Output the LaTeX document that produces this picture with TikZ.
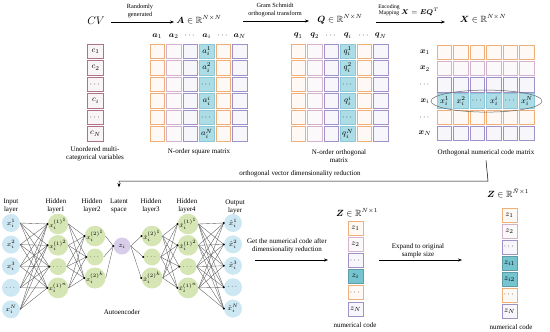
\documentclass[tikz,border=0pt]{standalone}
\usepackage{fontspec}
\setmainfont{Liberation Serif}
\usepackage{amsmath,amssymb,bm}
\usetikzlibrary{arrows.meta,calc,shapes.geometric}
\definecolor{corange}{RGB}{240,175,120}
\definecolor{cmauve}{RGB}{212,180,205}
\definecolor{cpurple}{RGB}{160,145,200}
\definecolor{ccyanb}{RGB}{140,200,215}
\definecolor{ccyanf}{RGB}{172,221,231}
\definecolor{cteal}{RGB}{118,196,208}
\definecolor{cmaroon}{RGB}{175,115,135}
\definecolor{nblue}{RGB}{205,232,243}
\definecolor{ngreen}{RGB}{213,229,180}
\definecolor{nlav}{RGB}{215,205,232}
\tikzset{
  cellbox/.style={draw=#1, line width=1pt, fill=#1!8, minimum width=14.5pt, minimum height=14.5pt, inner sep=0pt, font=\fontsize{8}{9}\selectfont},
  hotbox/.style={draw=ccyanb, line width=1pt, fill=ccyanf, minimum width=14.5pt, minimum height=14.5pt, inner sep=0pt, font=\fontsize{8}{9}\selectfont},
  vecbox/.style={draw=#1, line width=1pt, fill=#1!8, minimum width=15pt, minimum height=14pt, inner sep=0pt, font=\fontsize{8}{9}\selectfont},
  tealbox/.style={draw=cteal!80!black, line width=0.6pt, fill=cteal, minimum width=15pt, minimum height=14pt, inner sep=0pt, font=\fontsize{8}{9}\selectfont},
  lbl/.style={font=\fontsize{7}{8}\selectfont, align=center, inner sep=0pt},
  small/.style={font=\fontsize{6.3}{7.2}\selectfont, align=center, inner sep=0pt},
  hdr/.style={font=\fontsize{9}{10}\selectfont, inner sep=0pt},
  colhdr/.style={font=\fontsize{8}{9}\selectfont, inner sep=0pt},
  neuron/.style={circle, fill=#1, minimum size=17pt, inner sep=0pt, font=\fontsize{6}{7}\selectfont},
  conn/.style={draw=black!65, line width=0.35pt},
  flow/.style={-{Stealth[length=4pt,width=3pt]}, line width=0.5pt},
}
\begin{document}
\begin{tikzpicture}[x=1pt,y=-1pt]
\useasboundingbox (0,0) rectangle (550,332);

% ---------- top headers ----------
\node[font=\fontsize{11}{12}\selectfont] (cv) at (96,21) {$CV$};
\node[hdr] (Ahdr) at (199,20) {$\bm{A}\in\mathbb{R}^{N\times N}$};
\node[hdr] (Qhdr) at (340,19) {$\bm{Q}\in\mathbb{R}^{N\times N}$};
\node[hdr] (Xhdr) at (483,19) {$\bm{X}\in\mathbb{R}^{N\times N}$};

\coordinate (a1s) at (111,22); \coordinate (a1e) at (174,22);
\draw[flow] (a1s) -- (a1e);
\node[small] (t1) at (140,11) {Randomly\\generated};
\coordinate (a2s) at (243,21); \coordinate (a2e) at (309,21);
\draw[flow] (a2s) -- (a2e);
\node[small] (t2) at (275,10) {Gram Schmidt\\orthogonal transform};
\coordinate (a3s) at (376,22); \coordinate (a3e) at (445,22);
\draw[flow] (a3s) -- (a3e);
\node[font=\fontsize{5.6}{6.4}\selectfont, align=center, inner sep=0pt] (t3) at (389,10) {Encoding\\Mapping};
\node[font=\fontsize{7.5}{8}\selectfont, inner sep=0pt] (t4) at (420,12) {$\bm{X}=\bm{E}\bm{Q}^{T}$};

% ---------- c vector ----------
\foreach \r/\t in {1/{$c_1$},2/{$c_2$},3/{$\cdots$},4/{$c_i$},5/{$\cdots$},6/{$c_N$}}{
  \node[cellbox=cmaroon, minimum width=15.5pt] (c\r) at (95.5,{51.25+16.5*(\r-1)}) {\t};
}
\node[lbl] (capc) at (95,154) {Unordered multi-\\categorical variables};

% ---------- matrix A ----------
\foreach \c/\col in {1/corange,2/cmauve,3/cpurple,5/corange,6/cpurple}{
  \foreach \r in {1,...,6}{
    \node[cellbox=\col] (A-\r-\c) at ({157.25+16.5*(\c-1)},{51.25+16.5*(\r-1)}) {};
  }
}
\foreach \r/\t in {1/{$a_i^1$},2/{$a_i^2$},3/{$\cdots$},4/{$a_i^i$},5/{$\cdots$},6/{$a_i^N$}}{
  \node[hotbox] (A-\r-4) at ({157.25+16.5*3},{51.25+16.5*(\r-1)}) {\t};
}
\foreach \c/\t in {1/{$\bm{a}_1$},2/{$\bm{a}_2$},3/{$\cdots$},4/{$\bm{a}_i$},5/{$\cdots$},6/{$\bm{a}_N$}}{
  \node[colhdr] (Ah\c) at ({157.25+16.5*(\c-1)},36) {\t};
}
\node[lbl] (capA) at (199,152) {N-order square matrix};

% ---------- matrix Q ----------
\foreach \c/\col in {1/corange,2/cmauve,3/cpurple,5/corange,6/cpurple}{
  \foreach \r in {1,...,6}{
    \node[cellbox=\col] (Q-\r-\c) at ({298.25+16.5*(\c-1)},{51.25+16.5*(\r-1)}) {};
  }
}
\foreach \r/\t in {1/{$q_i^1$},2/{$q_i^2$},3/{$\cdots$},4/{$q_i^i$},5/{$\cdots$},6/{$q_i^N$}}{
  \node[hotbox] (Q-\r-4) at ({298.25+16.5*3},{51.25+16.5*(\r-1)}) {\t};
}
\foreach \c/\t in {1/{$\bm{q}_1$},2/{$\bm{q}_2$},3/{$\cdots$},4/{$\bm{q}_i$},5/{$\cdots$},6/{$\bm{q}_N$}}{
  \node[colhdr] (Qh\c) at ({298.25+16.5*(\c-1)},36) {\t};
}
\node[lbl] (capQ) at (339,156.5) {N-order orthogonal\\matrix};

% ---------- matrix X ----------
\foreach \r/\col in {1/corange,2/cmauve,3/cpurple,5/corange,6/cpurple}{
  \foreach \c in {1,...,6}{
    \node[cellbox=\col] (X-\r-\c) at ({444.5+16.5*(\c-1)},{52.5+16.2*(\r-1)}) {};
  }
}
\foreach \c/\t in {1/{$x_i^1$},2/{$x_i^2$},3/{$\cdots$},4/{$x_i^i$},5/{$\cdots$},6/{$x_i^N$}}{
  \node[hotbox] (X-4-\c) at ({444.5+16.5*(\c-1)},{52.5+16.2*3}) {\t};
}
\foreach \r/\t in {1/{$\bm{x}_1$},2/{$\bm{x}_2$},3/{$\cdots$},4/{$\bm{x}_i$},5/{$\cdots$},6/{$\bm{x}_N$}}{
  \node[colhdr] (Xh\r) at (425,{52.5+16.2*(\r-1)}) {\t};
}
\node[draw=black!60, line width=0.5pt, ellipse, minimum width=111pt, minimum height=22pt, inner sep=0pt] (ell) at (486.5,101.1) {};
\node[lbl] (capX) at (486,153) {Orthogonal numerical code matrix};

% ---------- reduction connector ----------
\node[lbl] (latlab) at (119,205.5) {Latent\\space};
\coordinate (bend) at (488,181);
\draw[flow] ($(capX.south)+(0,4)$) -- (bend) -| ($(latlab.north)+(0,-11)$);
\node[lbl] (redlab) at (300,174) {orthogonal vector dimensionality reduction};

% ---------- autoencoder ----------
\node[lbl] (inlab) at (11,205.5) {Input\\layer};
\node[lbl] (h1lab) at (56,205.5) {Hidden\\layer1};
\node[lbl] (h2lab) at (92,205.5) {Hidden\\layer2};
\node[lbl] (h3lab) at (151,205.5) {Hidden\\layer3};
\node[lbl] (h4lab) at (187,205.5) {Hidden\\layer4};
\node[lbl] (outlab) at (235,206.5) {Output\\layer};

\foreach \k/\t in {1/{$x_i^1$},2/{$x_i^2$},3/{$x_i^3$},4/{$\cdots$},5/{$x_i^N$}}{
  \node[neuron=nblue, minimum size=18pt, font=\fontsize{7}{8}\selectfont] (in\k) at (11,{223+21.6*(\k-1)}) {\t};
}
\foreach \k/\t in {1/{$x_i^{(1)^1}$},2/{$x_i^{(1)^2}$},3/{$\cdots$},4/{$x_i^{(1)^n}$}}{
  \node[neuron=ngreen] (ha\k) at (58,{224+21.3*(\k-1)}) {\t};
}
\foreach \k/\t in {1/{$x_i^{(2)^1}$},2/{$\cdots$},3/{$x_i^{(2)^k}$}}{
  \node[neuron=ngreen] (hb\k) at (95,{236+21*(\k-1)}) {\t};
}
\node[neuron=nlav, font=\fontsize{7}{8}\selectfont] (lat) at (122,246) {$z_i$};
\foreach \k/\t in {1/{$\hat{x}_i^{(2)^1}$},2/{$\cdots$},3/{$\hat{x}_i^{(2)^k}$}}{
  \node[neuron=ngreen] (hc\k) at (152,{236+21*(\k-1)}) {\t};
}
\foreach \k/\t in {1/{$\hat{x}_i^{(1)^1}$},2/{$\hat{x}_i^{(1)^2}$},3/{$\cdots$},4/{$\hat{x}_i^{(1)^n}$}}{
  \node[neuron=ngreen] (hd\k) at (188,{224+21.3*(\k-1)}) {\t};
}
\foreach \k/\t in {1/{$\hat{x}_i^1$},2/{$\hat{x}_i^2$},3/{$\hat{x}_i^3$},4/{$\cdots$},5/{$\hat{x}_i^N$}}{
  \node[neuron=nblue, minimum size=18pt, font=\fontsize{7}{8}\selectfont] (out\k) at (233,{223+21.4*(\k-1)}) {\t};
}
% connections
\foreach \i in {1,...,5}{\foreach \j in {1,...,4}{\draw[conn] (in\i.east) -- (ha\j.west);}}
\foreach \i in {1,...,4}{\foreach \j in {1,...,3}{\draw[conn] (ha\i.east) -- (hb\j.west);}}
\foreach \i in {1,...,3}{\draw[conn] (hb\i.east) -- (lat.west);}
\foreach \j in {1,...,3}{\draw[conn] (lat.east) -- (hc\j.west);}
\foreach \i in {1,...,3}{\foreach \j in {1,...,4}{\draw[conn] (hc\i.east) -- (hd\j.west);}}
\foreach \i in {1,...,4}{\foreach \j in {1,...,5}{\draw[conn] (hd\i.east) -- (out\j.west);}}
% entry dots
\foreach \n in {ha1,ha2,ha3,ha4,hb1,hb2,hb3,lat,hc1,hc2,hc3,hd1,hd2,hd3,hd4,out1,out2,out3,out4,out5}{
  \fill (\n.west) circle (1.1pt);
}
\node[lbl] (aelab) at (122,312) {Autoencoder};

% ---------- Z vector ----------
\node[lbl] (getlab) at (287,245.5) {Get the numerical code after\\dimensionality reduction};
\coordinate (g1) at (255,260); \coordinate (g2) at (328,260);
\draw[flow] (g1) -- (g2);
\node[hdr] (Zhdr) at (357,213) {$\bm{Z}\in\mathbb{R}^{N\times 1}$};
\foreach \r/\col/\t in {1/corange/{$z_1$},2/cmauve/{$z_2$},3/cpurple/{$\cdots$},5/corange/{$\cdots$},6/cpurple/{$z_N$}}{
  \node[vecbox=\col] (z\r) at (355.5,{228+16.2*(\r-1)}) {\t};
}
\node[tealbox] (z4) at (355.5,{228+16.2*3}) {$z_i$};
\node[lbl] (capZ) at (355,325) {numerical code};

\node[lbl] (explab) at (418,250.5) {Expand to original\\sample size};
\coordinate (e1) at (379,260); \coordinate (e2) at (462,260);
\draw[flow] (e1) -- (e2);
\node[hdr] (Zthdr) at (508,193) {$\bm{Z}\in\mathbb{R}^{\tilde{N}\times 1}$};
\foreach \r/\col/\t in {1/corange/{$z_1$},2/cmauve/{$z_2$},3/cpurple/{$\cdots$},6/corange/{$\cdots$},7/cpurple/{$z_N$}}{
  \node[vecbox=\col] (zz\r) at (509.5,{215+16*(\r-1)}) {\t};
}
\node[tealbox] (zz4) at (509.5,{215+16*3}) {$z_{i1}$};
\node[tealbox] (zz5) at (509.5,{215+16*4}) {$z_{i2}$};
\node[lbl] (capZt) at (511,327) {numerical code};
\end{tikzpicture}
\end{document}
